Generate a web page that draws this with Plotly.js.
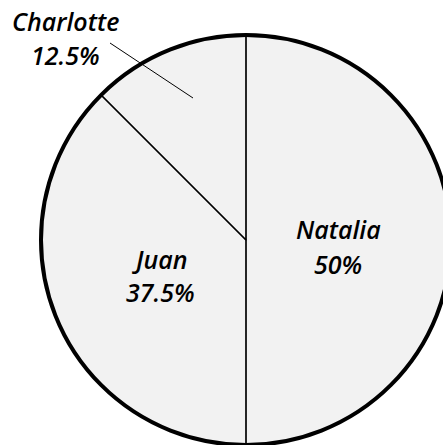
<!DOCTYPE html>
<html><head><meta charset="utf-8">
<script src="https://cdn.plot.ly/plotly-3.0.1.min.js"></script>
<style>html,body{margin:0;padding:0;overflow:hidden;background:#fff}</style>
</head><body><div id="chart"></div>
<script>
const labels = ["Natalia", "Juan", "Charlotte"];
const values = [50, 37.5, 12.5];

const W = 460, H = 445;
const cx = 246, cy = 240, R = 205;
const px = x => x / W, py = y => 1 - y / H;
const dom = {x: [px(cx - R), px(cx + R)], y: [py(cy + R), py(cy - R)]};
const font = {family: "Open Sans, sans-serif", size: 25, color: "#000", style: "italic", weight: 600};

const traces = [
  {type: "pie", values: [1], labels: ["all"], domain: dom, sort: false, textinfo: "none",
   hoverinfo: "skip", showlegend: false,
   marker: {colors: ["#f2f2f2"], line: {color: "#000", width: 4}}},
  {type: "pie", values: values, labels: labels, domain: dom, sort: false, direction: "clockwise",
   rotation: 0, textinfo: "none", showlegend: false,
   marker: {colors: ["rgba(0,0,0,0)", "rgba(0,0,0,0)", "rgba(0,0,0,0)"], line: {color: "#000", width: 1.2}}}
];

const pct = v => v + "%";
const labelPos = [[338, 229, 264], [160, 259, 292], [65, 21, 55]];
const annotations = [];
labels.forEach((l, i) => {
  const [x, y1, y2] = labelPos[i];
  annotations.push({x: px(x), y: py(y1), xref: "paper", yref: "paper", text: l, showarrow: false, font: font, xanchor: "center", yanchor: "middle"});
  annotations.push({x: px(x), y: py(y2), xref: "paper", yref: "paper", text: pct(values[i]), showarrow: false, font: font, xanchor: "center", yanchor: "middle"});
});

const layout = {
  width: W, height: H, autosize: false,
  margin: {l: 0, r: 0, t: 0, b: 0},
  paper_bgcolor: "#fff",
  showlegend: false,
  annotations: annotations,
  shapes: [{type: "line", xref: "paper", yref: "paper", x0: px(110), y0: py(43), x1: px(193), y1: py(98), line: {color: "#000", width: 1}}]
};
Plotly.newPlot("chart", traces, layout, {displayModeBar: false, staticPlot: true});
</script></body></html>
